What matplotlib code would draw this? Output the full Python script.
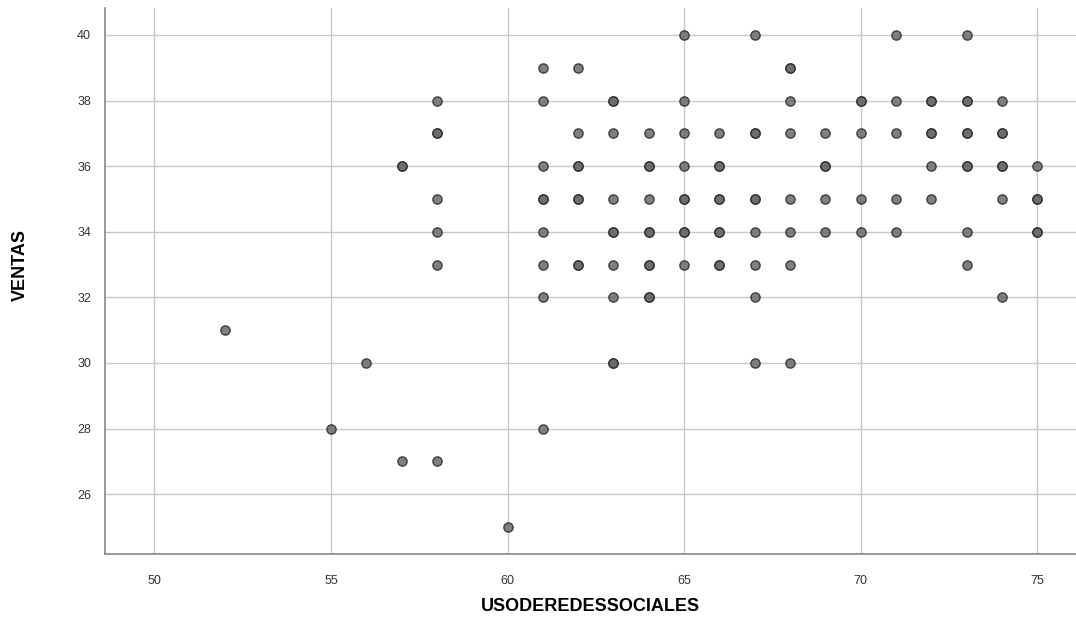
import numpy as np
import matplotlib.pyplot as plt

plt.rcParams['font.family'] = ['Liberation Sans', 'DejaVu Sans']

# USODEREDESSOCIALES (x) vs VENTAS (y); repeated pairs overlap and look darker
uso = [52, 55, 56, 57, 57, 57, 58, 58, 58, 58, 58, 58, 58, 60,
       61, 61, 61, 61, 61, 61, 61, 61, 61,
       62, 62, 62, 62, 62, 62, 62, 62,
       63, 63, 63, 63, 63, 63, 63, 63, 63, 63,
       64, 64, 64, 64, 64, 64, 64, 64, 64, 64,
       65, 65, 65, 65, 65, 65, 65, 65, 65,
       66, 66, 66, 66, 66, 66, 66, 66, 66,
       67, 67, 67, 67, 67, 67, 67, 67, 67,
       68, 68, 68, 68, 68, 68, 68, 68,
       69, 69, 69, 69, 69,
       70, 70, 70, 70, 70,
       71, 71, 71, 71, 71,
       72, 72, 72, 72, 72, 72,
       73, 73, 73, 73, 73, 73, 73, 73, 73,
       74, 74, 74, 74, 74, 74, 74,
       75, 75, 75, 75, 75]
ventas = [31, 28, 30, 36, 36, 27, 38, 37, 37, 35, 34, 33, 27, 25,
          39, 38, 36, 35, 35, 34, 33, 32, 28,
          39, 37, 36, 36, 35, 35, 33, 33,
          38, 38, 37, 35, 34, 34, 33, 32, 30, 30,
          37, 36, 36, 35, 34, 34, 33, 33, 32, 32,
          40, 38, 37, 36, 35, 35, 34, 34, 33,
          37, 36, 36, 35, 35, 34, 34, 33, 33,
          40, 37, 37, 35, 35, 34, 33, 32, 30,
          39, 39, 38, 37, 35, 34, 33, 30,
          37, 36, 36, 35, 34,
          38, 38, 37, 35, 34,
          40, 38, 37, 35, 34,
          38, 38, 37, 37, 36, 35,
          40, 38, 38, 37, 37, 36, 36, 34, 33,
          38, 37, 37, 36, 36, 35, 32,
          36, 35, 35, 34, 34]

x_ticks = [50, 55, 60, 65, 70, 75]
y_ticks = [26, 28, 30, 32, 34, 36, 38, 40]

fig = plt.figure(figsize=(10.76, 6.22), dpi=100)
ax = fig.add_axes([0.0976, 0.109, 0.9024, 0.878])

ax.scatter(uso, ventas, s=44, facecolor='#6a6a6a', edgecolor='#2a2a2a',
           linewidth=1.0, alpha=0.85, zorder=3)

ax.set_xlim(48.6, 76.1)
ax.set_ylim(24.17, 40.82)
ax.set_xticks(x_ticks)
ax.set_yticks(y_ticks)
ax.grid(True, color='#c8c8c8', linewidth=1.0, zorder=0)
ax.set_axisbelow(True)

for s in ['top', 'right']:
    ax.spines[s].set_visible(False)
for s in ['left', 'bottom']:
    ax.spines[s].set_color('#888888')
    ax.spines[s].set_linewidth(1.2)

ax.tick_params(length=0, labelsize=9, colors='#333333')
ax.tick_params(axis='x', pad=15)
ax.tick_params(axis='y', pad=10)

ax.set_xlabel('USODEREDESSOCIALES', fontsize=13, fontweight='bold')
ax.set_ylabel('VENTAS', fontsize=13, fontweight='bold')
ax.xaxis.set_label_coords(0.5, -0.08)
ax.yaxis.set_label_coords(-0.078, 0.53)

plt.savefig('out.png', dpi=100)
